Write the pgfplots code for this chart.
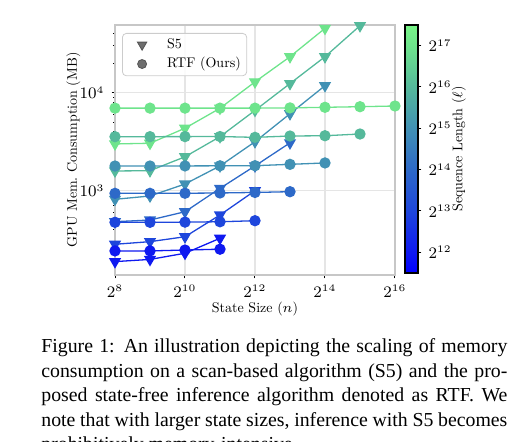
\documentclass[border=0pt]{standalone}
\usepackage{fontspec}
\setmainfont{lmroman10-regular}[Extension=.otf, ItalicFont=lmroman10-italic, BoldFont=lmroman10-bold, BoldItalicFont=lmroman10-bolditalic]
\usepackage{pgfplots}
\pgfplotsset{compat=1.18}
\newfontfamily\capfont{Liberation Serif}
\definecolor{c12}{RGB}{15,25,240}
\definecolor{c13}{RGB}{30,70,220}
\definecolor{c14}{RGB}{45,105,200}
\definecolor{c15}{RGB}{65,145,180}
\definecolor{c16}{RGB}{85,185,155}
\definecolor{c17}{RGB}{110,228,140}
\definecolor{lgray}{RGB}{85,85,85}
\newcommand{\tickfont}{\fontsize{7.7}{9}\selectfont}
\newcommand{\lblfont}{\fontsize{7}{8.4}\selectfont}
\pgfplotsset{colorbar shift/.style={xshift=5pt}}
\begin{document}
\begin{tikzpicture}
\path[use as bounding box] (-57.5pt,-83.5pt) rectangle (208pt,137.5pt);
\begin{axis}[
  scale only axis, width=140pt, height=125pt,
  xmode=log, ymode=log, log basis x=2,
  xmin=256, xmax=65536, ymin=138, ymax=49100,
  xtick={256,1024,4096,16384,65536},
  minor xtick={},
  tick pos=left, tick align=outside,
  major tick length=1.75pt, minor tick length=1pt,
  tick style={black, line width=0.5pt},
  axis line style={black!22, line width=0.8pt},
  grid=major, major grid style={black!10, line width=0.6pt},
  clip=false,
  tick label style={font=\tickfont},
  label style={font=\lblfont},
  xlabel={State Size ($n$)},
  ylabel={GPU Mem.\ Consumption (MB)},
  xlabel style={at={(axis description cs:0.5,-0.152)}, anchor=base},
  ylabel style={at={(axis description cs:-0.136,0.5)}, anchor=base},
  legend style={at={(axis description cs:0,1)}, anchor=north west, xshift=3.5pt, yshift=-4pt,
    draw=black!20, rounded corners=2pt, fill=white, fill opacity=0.85, text opacity=1,
    font=\lblfont, row sep=1pt, inner xsep=1.5pt, inner ysep=1.5pt,
    nodes={inner xsep=1.5pt, inner ysep=1pt}},
  legend cell align=left,
  point meta min=11.5, point meta max=17.5,
  colormap={seqmap}{rgb255(0pt)=(0,0,255); rgb255(1pt)=(15,25,240); rgb255(3pt)=(30,70,220); rgb255(5pt)=(45,105,200); rgb255(7pt)=(65,145,180); rgb255(9pt)=(85,185,155); rgb255(11pt)=(110,228,140); rgb255(12pt)=(120,245,135)},
  colorbar,
  colorbar style={
    colorbar shift/.style={xshift=5pt},
    at={(parent axis.north east)}, anchor=north west,
    scale only axis, width=6.5pt, height=124pt,
    ytick={12,13,14,15,16,17},
    yticklabels={$2^{12}$,$2^{13}$,$2^{14}$,$2^{15}$,$2^{16}$,$2^{17}$},
    ytick pos=right, yticklabel pos=right, tick align=outside,
    major tick length=1.75pt,
    tick style={black, line width=0.5pt},
    axis line style={black, line width=0.6pt},
    tick label style={font=\tickfont},
    ylabel={Sequence Length ($\ell$)},
    ylabel style={font=\lblfont, at={(axis description cs:4.42,0.5)}, anchor=base},
  },
]
\addlegendimage{legend image code/.code={\path[draw=none,fill=none] (0pt,-3.5pt) rectangle (19.35pt,3.5pt); \draw[lgray, only marks, mark=triangle*, mark size=2.7pt, mark options={rotate=180, fill=lgray, draw=lgray}] plot coordinates {(8.35pt,0pt)};}}
\addlegendentry{S5}
\addlegendimage{legend image code/.code={\path[draw=none,fill=none] (0pt,-3.5pt) rectangle (19.35pt,3.5pt); \draw[lgray, only marks, mark=*, mark size=2.25pt, mark options={fill=lgray, draw=lgray}] plot coordinates {(8.35pt,0pt)};}}
\addlegendentry{RTF (Ours)}

% S5 (triangles)
\addplot[c12, line width=0.65pt, mark=triangle*, mark size=2.9pt, mark options={rotate=180}, forget plot] coordinates {(256,189) (512,199) (1024,230) (2048,327)};
\addplot[c13, line width=0.65pt, mark=triangle*, mark size=2.9pt, mark options={rotate=180}, forget plot] coordinates {(256,284) (512,302) (1024,339) (2048,565) (4096,1000)};
\addplot[c14, line width=0.65pt, mark=triangle*, mark size=2.9pt, mark options={rotate=180}, forget plot] coordinates {(256,483) (512,502) (1024,610) (2048,1057) (4096,1790) (8192,3080)};
\addplot[c15, line width=0.65pt, mark=triangle*, mark size=2.9pt, mark options={rotate=180}, forget plot] coordinates {(256,817) (512,883) (1024,1170) (2048,1790) (4096,3160) (8192,6100) (16384,11800)};
\addplot[c16, line width=0.65pt, mark=triangle*, mark size=2.9pt, mark options={rotate=180}, forget plot] coordinates {(256,1590) (512,1600) (1024,2220) (2048,3560) (4096,6600) (8192,12400) (16384,23300) (32768,48300)};
\addplot[c17, line width=0.65pt, mark=triangle*, mark size=2.9pt, mark options={rotate=180}, forget plot] coordinates {(256,3000) (512,3050) (1024,4340) (2048,6940) (4096,12900) (8192,23300) (16384,45400)};

% RTF (circles)
\addplot[c12, line width=0.65pt, mark=*, mark size=2.5pt, forget plot] coordinates {(256,243) (512,243) (1024,248) (2048,253)};
\addplot[c13, line width=0.65pt, mark=*, mark size=2.5pt, forget plot] coordinates {(256,476) (512,476) (1024,478) (2048,482) (4096,494)};
\addplot[c14, line width=0.65pt, mark=*, mark size=2.5pt, forget plot] coordinates {(256,940) (512,940) (1024,942) (2048,948) (4096,960) (8192,977)};
\addplot[c15, line width=0.65pt, mark=*, mark size=2.5pt, forget plot] coordinates {(256,1787) (512,1787) (1024,1790) (2048,1795) (4096,1800) (8192,1858) (16384,1920)};
\addplot[c16, line width=0.65pt, mark=*, mark size=2.5pt, forget plot] coordinates {(256,3560) (512,3560) (1024,3565) (2048,3570) (4096,3505) (8192,3615) (16384,3640) (32768,3790)};
\addplot[c17, line width=0.65pt, mark=*, mark size=2.5pt, forget plot] coordinates {(256,6960) (512,6960) (1024,6960) (2048,6960) (4096,6960) (8192,7000) (16384,7100) (32768,7200) (65536,7320)};
\end{axis}
\node[anchor=base west, inner sep=0pt] at (-37pt,-39pt) {\parbox[t]{233pt}{\capfont\fontsize{9.9}{12.25}\selectfont
Figure 1: An illustration depicting the scaling of memory\linebreak
consumption on a scan-based algorithm (S5) and the pro-\linebreak
posed state-free inference algorithm denoted as RTF. We\linebreak
note that with larger state sizes, inference with S5 becomes\linebreak
prohibitively memory-intensive.}};
\end{tikzpicture}
\end{document}
